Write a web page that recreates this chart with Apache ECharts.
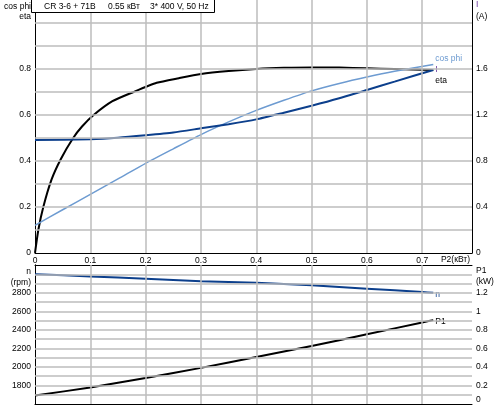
<!DOCTYPE html>
<html>
<head>
<meta charset="utf-8">
<script src="https://cdn.jsdelivr.net/npm/echarts@6/dist/echarts.min.js"></script>
<style>
html, body { margin: 0; padding: 0; background: #fff; }
#chart { width: 500px; height: 405px; }
</style>
</head>
<body>
<div id="chart"></div>
<script>
var FONT = 'Liberation Sans, Arial, sans-serif';
var FS = 8.5;
var GRID_COLOR = '#bdbdbd';

// upper panel: eta / cos phi (left), I (right) against P2 (kW)
var etaP2 = [0, 0.006, 0.015, 0.03, 0.047, 0.069, 0.085, 0.106, 0.14, 0.178, 0.22, 0.26, 0.3, 0.35, 0.4, 0.45, 0.5, 0.55, 0.6, 0.65, 0.72];
var etaVal = [0, 0.1, 0.2, 0.32, 0.41, 0.5, 0.55, 0.6, 0.66, 0.7, 0.74, 0.76, 0.778, 0.791, 0.8, 0.805, 0.807, 0.806, 0.803, 0.8, 0.796];

var cosP2 = [0, 0.05, 0.1, 0.15, 0.2, 0.25, 0.3, 0.35, 0.4, 0.45, 0.5, 0.55, 0.6, 0.65, 0.72];
var cosVal = [0.12, 0.188, 0.255, 0.322, 0.39, 0.453, 0.515, 0.57, 0.62, 0.664, 0.705, 0.737, 0.765, 0.79, 0.82];

var curP2 = [0, 0.1, 0.15, 0.2, 0.25, 0.3, 0.35, 0.4, 0.45, 0.5, 0.55, 0.6, 0.65, 0.72];
var curVal = [0.982, 0.99, 1.003, 1.024, 1.048, 1.084, 1.12, 1.162, 1.22, 1.28, 1.345, 1.418, 1.49, 1.592];

// lower panel: n (left), P1 (right)
var lowP2 = [0, 0.1, 0.2, 0.3, 0.4, 0.5, 0.6, 0.7, 0.72];
var speedVal = [3000, 2977, 2952, 2925, 2908, 2881, 2845, 2808, 2800];
var p1Val = [0.092, 0.178, 0.28, 0.39, 0.508, 0.625, 0.752, 0.88, 0.905];

// axis ranges and grid line positions
var P2_MIN = 0, P2_MAX = 0.79;
var ETA_MIN = 0, ETA_MAX = 1.1;
var N_MIN = 1600, N_MAX = 3100;
var p2Grid = [0.1, 0.2, 0.3, 0.4, 0.5, 0.6, 0.7];
var etaGrid = [0.1, 0.2, 0.3, 0.4, 0.5, 0.6, 0.7, 0.8, 0.9, 1.0];
var speedGrid = [1700, 1800, 1900, 2000, 2100, 2200, 2300, 2400, 2500, 2600, 2700, 2800, 2900, 3000];

function pairs(xs, ys) {
    return xs.map(function (x, i) { return [x, ys[i]]; });
}

function lbl(extra) {
    var o = { fontSize: FS, color: '#000', fontFamily: FONT, margin: 4 };
    for (var k in extra) o[k] = extra[k];
    return o;
}

function axisBase(extra) {
    var a = {
        type: 'value',
        axisLine: { show: true, lineStyle: { color: '#000', width: 1 } },
        axisTick: { show: false },
        splitLine: { show: false }
    };
    for (var k in extra) a[k] = extra[k];
    return a;
}

function tenths(v) { return Math.round(v * 10); }

// invisible carrier series whose markLines draw the grid through the axes
function gridSeries(xi, yi, xs, ys, yMin, yMax) {
    var lines = xs.map(function (v) { return [{ coord: [v, yMin] }, { coord: [v, yMax] }]; })
        .concat(ys.map(function (v) { return [{ coord: [P2_MIN, v] }, { coord: [P2_MAX, v] }]; }));
    return {
        type: 'line', xAxisIndex: xi, yAxisIndex: yi, z: 1, silent: true,
        data: [[P2_MIN, yMin]], showSymbol: false,
        lineStyle: { width: 0 },
        markLine: {
            silent: true, symbol: ['none', 'none'], label: { show: false },
            lineStyle: { color: GRID_COLOR, width: 1.5, type: 'solid' },
            emphasis: { disabled: true },
            data: lines
        }
    };
}

var chart = echarts.init(document.getElementById('chart'));
var option = {
    animation: false,
    backgroundColor: '#fff',
    textStyle: { fontFamily: FONT },
    grid: [
        { left: 35, right: 28, top: 0, height: 253, show: false },
        { left: 35, right: 28, top: 265, height: 139, show: false }
    ],
    xAxis: [
        axisBase({
            gridIndex: 0, min: P2_MIN, max: P2_MAX, interval: 0.1,
            axisLabel: lbl({
                margin: 3,
                formatter: function (v) {
                    var k = tenths(v);
                    if (Math.abs(v * 10 - k) > 1e-6 || k > 7) return '';
                    return k === 0 ? '0' : String(k / 10);
                }
            })
        }),
        axisBase({ gridIndex: 1, min: P2_MIN, max: P2_MAX, interval: 0.1, axisLabel: { show: false } }),
        // top border of the lower panel
        axisBase({ gridIndex: 1, position: 'top', min: P2_MIN, max: P2_MAX, interval: 0.1, axisLabel: { show: false } })
    ],
    yAxis: [
        axisBase({
            gridIndex: 0, min: ETA_MIN, max: ETA_MAX, interval: 0.1,
            axisLabel: lbl({
                formatter: function (v) {
                    var k = tenths(v);
                    if (k % 2 !== 0 || k > 8) return '';
                    return k === 0 ? '0' : String(k / 10);
                }
            })
        }),
        axisBase({
            gridIndex: 0, position: 'right', min: 0, max: 2.2, interval: 0.2,
            axisLabel: lbl({
                formatter: function (v) {
                    var k = tenths(v);
                    if (k % 4 !== 0 || k > 16) return '';
                    return k === 0 ? '0' : String(k / 10);
                }
            })
        }),
        axisBase({
            gridIndex: 1, min: N_MIN, max: N_MAX, interval: 100,
            axisLabel: lbl({
                formatter: function (v) {
                    if (v % 200 !== 0 || v < 1800 || v > 2800) return '';
                    return String(v);
                }
            })
        }),
        axisBase({
            gridIndex: 1, position: 'right', min: 0, max: 1.5, interval: 0.1,
            axisLabel: lbl({
                formatter: function (v) {
                    var k = tenths(v);
                    if (k % 2 !== 0 || k > 12) return '';
                    if (k === 0) return '{z|0}';
                    return String(k / 10);
                },
                rich: { z: { fontSize: FS, fontFamily: FONT, color: '#000', padding: [0, 0, 8, 0] } }
            })
        })
    ],
    series: [
        gridSeries(0, 0, p2Grid, etaGrid, ETA_MIN, ETA_MAX),
        gridSeries(1, 2, p2Grid, speedGrid, N_MIN, N_MAX),
        {
            name: 'eta', type: 'line', xAxisIndex: 0, yAxisIndex: 0, z: 3,
            data: pairs(etaP2, etaVal), showSymbol: false, smooth: 0.2,
            lineStyle: { color: '#000', width: 2 },
            endLabel: { show: true, formatter: 'eta', color: '#000', fontSize: FS, fontFamily: FONT, distance: 2, offset: [0, 11] }
        },
        {
            name: 'cos phi', type: 'line', xAxisIndex: 0, yAxisIndex: 0, z: 3,
            data: pairs(cosP2, cosVal), showSymbol: false, smooth: 0.2,
            lineStyle: { color: '#6d9bd1', width: 1.5 },
            endLabel: { show: true, formatter: 'cos phi', color: '#6d9bd1', fontSize: FS, fontFamily: FONT, distance: 2, offset: [0, -6] }
        },
        {
            name: 'I', type: 'line', xAxisIndex: 0, yAxisIndex: 1, z: 3,
            data: pairs(curP2, curVal), showSymbol: false, smooth: 0.2,
            lineStyle: { color: '#0c3f8c', width: 2 },
            endLabel: { show: true, formatter: 'I', color: '#663399', fontSize: FS, fontFamily: FONT, distance: 2, offset: [0, 0] }
        },
        {
            name: 'n', type: 'line', xAxisIndex: 1, yAxisIndex: 2, z: 3,
            data: pairs(lowP2, speedVal), showSymbol: false, smooth: 0.2,
            lineStyle: { color: '#0c3f8c', width: 2 },
            endLabel: { show: true, formatter: 'n', color: '#0c3f8c', fontSize: FS, fontFamily: FONT, distance: 2, offset: [0, 2] }
        },
        {
            name: 'P1', type: 'line', xAxisIndex: 1, yAxisIndex: 3, z: 3,
            data: pairs(lowP2, p1Val), showSymbol: false, smooth: 0.2,
            lineStyle: { color: '#000', width: 2 },
            endLabel: { show: true, formatter: 'P1', color: '#000', fontSize: FS, fontFamily: FONT, distance: 2, offset: [0, 2] }
        }
    ],
    graphic: [
        { type: 'text', z: 100, x: 31, y: 7, style: { text: 'cos phi', align: 'right', verticalAlign: 'middle', font: FS + 'px ' + FONT, fill: '#000' } },
        { type: 'text', z: 100, x: 31, y: 17, style: { text: 'eta', align: 'right', verticalAlign: 'middle', font: FS + 'px ' + FONT, fill: '#000' } },
        { type: 'text', z: 100, x: 476, y: 5, style: { text: 'I', align: 'left', verticalAlign: 'middle', font: FS + 'px ' + FONT, fill: '#663399' } },
        { type: 'text', z: 100, x: 476, y: 17, style: { text: '(A)', align: 'left', verticalAlign: 'middle', font: FS + 'px ' + FONT, fill: '#000' } },
        { type: 'text', z: 100, x: 470, y: 260, style: { text: 'P2(кВт)', align: 'right', verticalAlign: 'middle', font: FS + 'px ' + FONT, fill: '#000' } },
        { type: 'text', z: 100, x: 31, y: 272, style: { text: 'n', align: 'right', verticalAlign: 'middle', font: FS + 'px ' + FONT, fill: '#000' } },
        { type: 'text', z: 100, x: 31, y: 283, style: { text: '(rpm)', align: 'right', verticalAlign: 'middle', font: FS + 'px ' + FONT, fill: '#000' } },
        { type: 'text', z: 100, x: 476, y: 271, style: { text: 'P1', align: 'left', verticalAlign: 'middle', font: FS + 'px ' + FONT, fill: '#000' } },
        { type: 'text', z: 100, x: 476, y: 282, style: { text: '(kW)', align: 'left', verticalAlign: 'middle', font: FS + 'px ' + FONT, fill: '#000' } },
        // title box
        { type: 'rect', z: 100, shape: { x: 31.5, y: -1, width: 183, height: 13.5 }, style: { fill: '#fff', stroke: '#000', lineWidth: 1 } },
        { type: 'text', z: 101, x: 44, y: 6.5, style: { text: 'CR 3-6 + 71B', verticalAlign: 'middle', font: FS + 'px ' + FONT, fill: '#000' } },
        { type: 'text', z: 101, x: 108, y: 6.5, style: { text: '0.55 кВт', verticalAlign: 'middle', font: FS + 'px ' + FONT, fill: '#000' } },
        { type: 'text', z: 101, x: 150, y: 6.5, style: { text: '3* 400 V, 50 Hz', verticalAlign: 'middle', font: FS + 'px ' + FONT, fill: '#000' } }
    ]
};
chart.setOption(option);
</script>
</body>
</html>
